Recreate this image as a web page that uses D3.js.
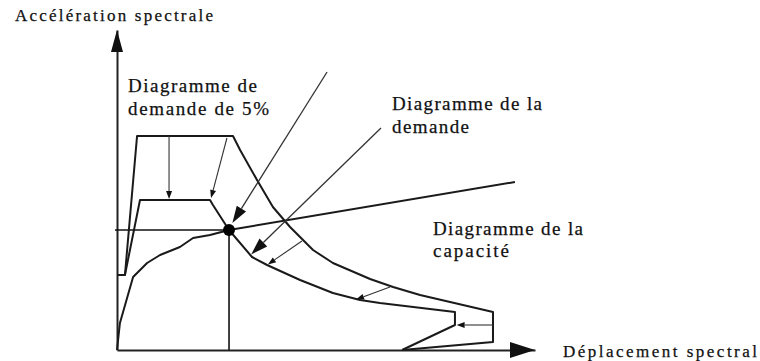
<!DOCTYPE html>
<html>
<head>
<meta charset="utf-8">
<script src="https://cdn.jsdelivr.net/npm/d3@7"></script>
<style>
  html, body { margin: 0; padding: 0; background: #fff; }
  svg { display: block; }
</style>
</head>
<body>
<svg id="chart" width="760" height="361"></svg>
<script>
// Spectral displacement Sd (cm) and spectral acceleration Sa (g)
const sdMax = 20, saMax = 1.6;

// 5 % damped elastic demand spectrum (ADRS format)
const demand5Sd = [0, 0.38, 0.96, 5.55, 5.89, 6.70, 7.46, 8.28, 9.38, 10.33, 12.11, 13.21, 14.50, 17.99, 17.99, 13.64];
const demand5Sa = [0.375, 0.375, 1.07, 1.07, 1.00, 0.85, 0.715, 0.615, 0.50, 0.435, 0.355, 0.315, 0.275, 0.19, 0.04, 0];

// Reduced (inelastic) demand spectrum
const demandSd = [0, 0.38, 1.10, 4.45, 4.59, 5.36, 6.46, 7.18, 8.76, 10.33, 11.63, 12.58, 16.17, 16.17, 13.64];
const demandSa = [0.375, 0.375, 0.75, 0.75, 0.725, 0.60, 0.465, 0.425, 0.35, 0.285, 0.25, 0.235, 0.19, 0.125, 0];

// Capacity curve
const capacitySd = [0, 0.14, 0.77, 1.44, 2.06, 3.01, 3.64, 4.45, 5.36, 19.04];
const capacitySa = [0, 0.135, 0.365, 0.435, 0.475, 0.515, 0.56, 0.575, 0.60, 0.84];

// Performance point
const perfSd = 5.36, perfSa = 0.60;

// Reduction arrows: [Sd0, Sa0, Sd1, Sa1], small heads
const reductionArrows = [
  [2.49, 1.07, 2.49, 0.755],
  [5.26, 1.06, 4.50, 0.76],
  [8.85, 0.545, 7.22, 0.428],
  [13.06, 0.315, 11.44, 0.252],
  [17.99, 0.125, 16.25, 0.125]
];
// Leader arrows with large heads
const leaderArrows = [
  [10.05, 1.39, 5.52, 0.635],
  [12.63, 1.11, 6.42, 0.478]
];

// Text labels
const yTitle = "Accélération spectrale";
const xTitle = "Déplacement spectral";
const noteDemand5 = ["Diagramme de", "demande de 5%"];
const noteDemand = ["Diagramme de la", "demande"];
const noteCapacity = ["Diagramme de la", "capacité"];

const svg = d3.select("#chart");
const x = d3.scaleLinear().domain([0, sdMax]).range([117, 535]);
const y = d3.scaleLinear().domain([0, saMax]).range([350, 30]);

const zip = (a, b) => a.map((v, i) => [v, b[i]]);
const line = d3.line().x(d => x(d[0])).y(d => y(d[1]));

// Axes (domain lines only)
svg.append("g").attr("transform", `translate(0,${y(0)})`)
  .call(d3.axisBottom(x).tickValues([]).tickSizeOuter(0))
  .call(g => g.select(".domain").attr("stroke", "#222").attr("stroke-width", 2));
svg.append("g").attr("transform", `translate(${x(0)},0)`)
  .call(d3.axisLeft(y).tickValues([]).tickSizeOuter(0))
  .call(g => g.select(".domain").attr("stroke", "#222").attr("stroke-width", 2));

// Axis arrowheads
const xe = x(sdMax), y0 = y(0), x0 = x(0), ye = y(saMax);
svg.append("path").attr("d", `M${xe},${y0} L${xe - 25},${y0 - 8} L${xe - 25},${y0 + 8} Z`).attr("fill", "#111");
svg.append("path").attr("d", `M${x0},${ye} L${x0 - 6},${ye + 22} L${x0 + 6},${ye + 22} Z`).attr("fill", "#111");

// Guides to the performance point
svg.append("line").attr("x1", x(0) - 2).attr("x2", x(perfSd)).attr("y1", y(perfSa)).attr("y2", y(perfSa))
  .attr("stroke", "#111").attr("stroke-width", 1.6);
svg.append("line").attr("x1", x(perfSd)).attr("x2", x(perfSd)).attr("y1", y(perfSa)).attr("y2", y(0))
  .attr("stroke", "#111").attr("stroke-width", 1.6);

// Curves
[[demand5Sd, demand5Sa], [demandSd, demandSa], [capacitySd, capacitySa]].forEach(([a, b]) => {
  svg.append("path").datum(zip(a, b)).attr("d", line)
    .attr("fill", "none").attr("stroke", "#1a1a1a").attr("stroke-width", 2)
    .attr("stroke-linejoin", "round");
});

function arrow(s, headLen, headW, width) {
  const x1 = x(s[0]), y1 = y(s[1]), x2 = x(s[2]), y2 = y(s[3]);
  const ang = Math.atan2(y2 - y1, x2 - x1);
  const bx = x2 - headLen * Math.cos(ang), by = y2 - headLen * Math.sin(ang);
  svg.append("line").attr("x1", x1).attr("y1", y1).attr("x2", bx).attr("y2", by)
    .attr("stroke", "#333").attr("stroke-width", width);
  const px = -Math.sin(ang) * headW / 2, py = Math.cos(ang) * headW / 2;
  svg.append("path").attr("d", `M${x2},${y2} L${bx + px},${by + py} L${bx - px},${by - py} Z`).attr("fill", "#111");
}
reductionArrows.forEach(s => arrow(s, 8, 6, 1.1));
leaderArrows.forEach(s => arrow(s, 17, 11, 1.3));

// Performance point marker
svg.append("circle").attr("cx", x(perfSd)).attr("cy", y(perfSa)).attr("r", 6).attr("fill", "#000");

// Texts: widen each line with letter-spacing to the wanted width
function text(lines, px, py, size, widths, dy) {
  lines.forEach((t, i) => {
    const el = svg.append("text").attr("x", px).attr("y", py + i * dy)
      .attr("font-family", "Liberation Serif").attr("font-size", size)
      .attr("fill", "#111").attr("stroke", "#111").attr("stroke-width", 0.25).text(t);
    const w = el.node().getComputedTextLength();
    const n = Math.max(1, t.length - 1);
    el.attr("letter-spacing", Math.max(0, (widths[i] - w) / n));
  });
}
text([yTitle], 15, 21, 17, [198], 0);
text([xTitle], 563, 357, 17, [194], 0);
text(noteDemand5, 128, 92, 19, [129, 141], 23);
text(noteDemand, 392, 110, 19, [150, 77], 23);
text(noteCapacity, 433, 235, 19, [150, 76], 22);
</script>
</body>
</html>
